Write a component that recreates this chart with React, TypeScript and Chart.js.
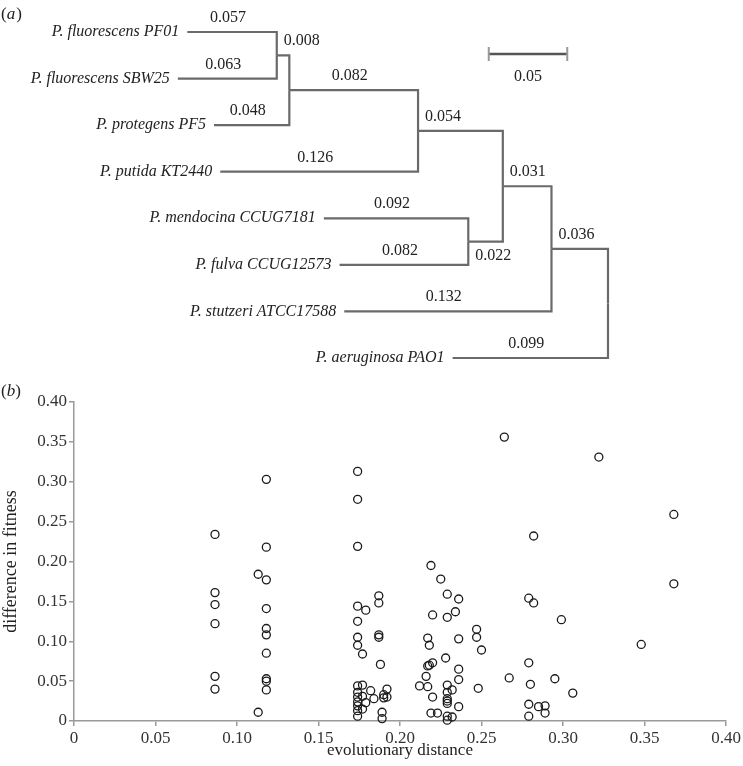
import React, { useEffect, useRef } from 'react';
import { Chart, registerables } from 'chart.js';

Chart.register(...registerables);

const FONT = '"Liberation Serif", "Times New Roman", Times, serif';

// ---------- Panel (a): phylogenetic tree ----------
const leafNames = [
  'P. fluorescens PF01',
  'P. fluorescens SBW25',
  'P. protegens PF5',
  'P. putida KT2440',
  'P. mendocina CCUG7181',
  'P. fulva CCUG12573',
  'P. stutzeri ATCC17588',
  'P. aeruginosa PAO1',
];
const leafBranchLengths = [0.057, 0.063, 0.048, 0.126, 0.092, 0.082, 0.132, 0.099];
// internal nodes in post-order (root last)
const nodeNames = ['F', 'E', 'C', 'D', 'B', 'A', 'R'];
const nodeChildren = [
  ['L0', 'L1'],
  ['F', 'L2'],
  ['E', 'L3'],
  ['L4', 'L5'],
  ['C', 'D'],
  ['B', 'L6'],
  ['A', 'L7'],
];
const nodeBranchLengths = [0.008, 0.082, 0.054, 0.022, 0.031, 0.036, 0];
const scaleBarLength = 0.05;

// ---------- Panel (b): scatter ----------
const distance = [
  0.0865, 0.0865, 0.0865, 0.0865, 0.0865, 0.0865,
  0.118, 0.118, 0.118, 0.118, 0.118, 0.118, 0.118, 0.118, 0.118, 0.118,
  0.113, 0.113,
  0.174, 0.174, 0.174, 0.174, 0.174, 0.174, 0.174, 0.174, 0.174, 0.174, 0.174, 0.174, 0.174, 0.174,
  0.177, 0.177, 0.177, 0.177,
  0.179, 0.179, 0.182, 0.184,
  0.187, 0.187, 0.187, 0.187, 0.188, 0.189, 0.189, 0.190, 0.190, 0.192, 0.192,
  0.212, 0.216, 0.217, 0.217, 0.217, 0.218, 0.218, 0.219, 0.219, 0.220, 0.220, 0.220, 0.223,
  0.225, 0.228,
  0.229, 0.229, 0.229, 0.229, 0.229, 0.229, 0.229, 0.229, 0.229,
  0.232, 0.232, 0.234,
  0.236, 0.236, 0.236, 0.236, 0.236,
  0.247, 0.247, 0.248, 0.250,
  0.264, 0.267, 0.279, 0.279, 0.279, 0.279, 0.280, 0.282, 0.282, 0.285, 0.289, 0.289,
  0.295, 0.299, 0.306, 0.322, 0.348, 0.368, 0.368,
];
const fitnessDiff = [
  0.234, 0.161, 0.146, 0.122, 0.056, 0.040,
  0.303, 0.218, 0.177, 0.141, 0.116, 0.108, 0.085, 0.053, 0.050, 0.039,
  0.184, 0.011,
  0.313, 0.278, 0.219, 0.144, 0.125, 0.105, 0.095, 0.044, 0.036, 0.030, 0.024, 0.019, 0.013, 0.006,
  0.084, 0.045, 0.031, 0.015,
  0.139, 0.023, 0.038, 0.028,
  0.157, 0.148, 0.108, 0.105, 0.071, 0.011, 0.003, 0.029, 0.033, 0.040, 0.030,
  0.044, 0.056, 0.104, 0.069, 0.043, 0.095, 0.070, 0.195, 0.010, 0.133, 0.073, 0.030, 0.010,
  0.178, 0.079,
  0.159, 0.130, 0.045, 0.036, 0.028, 0.025, 0.022, 0.006, 0.001,
  0.039, 0.005, 0.137,
  0.153, 0.103, 0.065, 0.052, 0.018,
  0.115, 0.105, 0.041, 0.089,
  0.356, 0.054, 0.154, 0.073, 0.021, 0.006, 0.046, 0.232, 0.148, 0.018, 0.019, 0.010,
  0.053, 0.127, 0.035, 0.331, 0.096, 0.259, 0.172,
];
const xTickValues = [0, 0.05, 0.1, 0.15, 0.2, 0.25, 0.3, 0.35, 0.4];
const yTickValues = [0, 0.05, 0.1, 0.15, 0.2, 0.25, 0.3, 0.35, 0.4];
const xTitle = 'evolutionary distance';
const yTitle = 'difference in fitness';

const fmtTick = (v: number) => (v === 0 ? '0' : v.toFixed(2));

function buildTree() {
  const depth: Record<string, number> = {};
  const yPos: Record<string, number> = {};
  const length: Record<string, number> = {};
  const parent: Record<string, string> = {};
  leafNames.forEach((_, i) => {
    yPos['L' + i] = i;
    length['L' + i] = leafBranchLengths[i];
  });
  nodeNames.forEach((n, i) => {
    length[n] = nodeBranchLengths[i];
    const [a, b] = nodeChildren[i];
    yPos[n] = (yPos[a] + yPos[b]) / 2;
    parent[a] = n;
    parent[b] = n;
  });
  depth[nodeNames[nodeNames.length - 1]] = 0;
  for (let i = nodeNames.length - 1; i >= 0; i--) {
    const n = nodeNames[i];
    for (const c of nodeChildren[i]) depth[c] = depth[n] + length[c];
  }
  return { depth, yPos, length, parent };
}

const tree = buildTree();
const belowLabelNodes = ['D'];

function TreePanel() {
  const ref = useRef<HTMLCanvasElement>(null);
  useEffect(() => {
    const ids = Object.keys(tree.parent);
    const datasets = ids.map((id) => {
      const p = tree.parent[id];
      return {
        data: [
          { x: tree.depth[p], y: tree.yPos[p] },
          { x: tree.depth[p], y: tree.yPos[id] },
          { x: tree.depth[id], y: tree.yPos[id] },
        ],
        showLine: true,
        borderColor: '#6a6a6a',
        borderWidth: 2.2,
        pointRadius: 0,
        tension: 0,
        borderJoinStyle: 'miter' as const,
        clip: false as any,
      };
    });
    const plugin = {
      id: 'treeText',
      afterDatasetsDraw(chart: any) {
        const ctx = chart.ctx;
        const xs = chart.scales.x;
        const ys = chart.scales.y;
        ctx.save();
        // panel label
        ctx.fillStyle = '#222';
        ctx.textBaseline = 'alphabetic';
        ctx.textAlign = 'left';
        ctx.font = `17px ${FONT}`;
        ctx.fillText('(', 1, 19);
        let w = ctx.measureText('(').width;
        ctx.font = `italic 17px ${FONT}`;
        ctx.fillText('a', 1 + w, 19);
        w += ctx.measureText('a').width;
        ctx.font = `17px ${FONT}`;
        ctx.fillText(')', 2 + w, 19);

        // leaf labels
        ctx.font = `italic 16px ${FONT}`;
        ctx.textAlign = 'right';
        ctx.textBaseline = 'middle';
        leafNames.forEach((name, i) => {
          const id = 'L' + i;
          ctx.fillText(name, xs.getPixelForValue(tree.depth[id]) - 8, ys.getPixelForValue(tree.yPos[id]));
        });
        // branch length labels
        ctx.font = `16px ${FONT}`;
        ctx.textBaseline = 'alphabetic';
        ids.forEach((id) => {
          const len = tree.length[id];
          if (!len) return;
          const p = tree.parent[id];
          const x0 = xs.getPixelForValue(tree.depth[p]);
          const x1 = xs.getPixelForValue(tree.depth[id]);
          const y = ys.getPixelForValue(tree.yPos[id]);
          const internal = !id.startsWith('L');
          let tx;
          if (internal && len < 0.06) {
            ctx.textAlign = 'left';
            tx = Math.min(x0, x1) + 7;
          } else {
            ctx.textAlign = 'center';
            tx = (x0 + x1) / 2 - 4;
          }
          const ty = belowLabelNodes.includes(id) ? y + 18 : y - 10;
          ctx.fillText(len.toFixed(3), tx, ty);
        });
        // scale bar
        const barPx = Math.abs(xs.getPixelForValue(0) - xs.getPixelForValue(scaleBarLength));
        const cx = 528;
        const cy = 54;
        ctx.strokeStyle = '#555';
        ctx.lineWidth = 2.5;
        ctx.beginPath();
        ctx.moveTo(cx - barPx / 2, cy);
        ctx.lineTo(cx + barPx / 2, cy);
        ctx.stroke();
        ctx.strokeStyle = '#999';
        ctx.lineWidth = 2;
        ctx.beginPath();
        ctx.moveTo(cx - barPx / 2, cy - 7);
        ctx.lineTo(cx - barPx / 2, cy + 7);
        ctx.moveTo(cx + barPx / 2, cy - 7);
        ctx.lineTo(cx + barPx / 2, cy + 7);
        ctx.stroke();
        ctx.textAlign = 'center';
        ctx.fillText(scaleBarLength.toFixed(2), cx, 81);
        ctx.restore();
      },
    };
    const chart = new Chart(ref.current!, {
      type: 'scatter',
      data: { datasets: datasets as any },
      options: {
        animation: false,
        responsive: false,
        devicePixelRatio: 1,
        layout: { padding: 0 },
        plugins: { legend: { display: false }, tooltip: { enabled: false } },
        scales: {
          x: { type: 'linear', reverse: true, min: -0.086, max: 0.3873, display: false },
          y: { type: 'linear', reverse: true, min: -0.687, max: 7.365, display: false },
        },
      },
      plugins: [plugin],
    });
    return () => chart.destroy();
  }, []);
  return <canvas ref={ref} width={743} height={375} style={{ display: 'block' }} />;
}

function ScatterPanel() {
  const ref = useRef<HTMLCanvasElement>(null);
  useEffect(() => {
    const points = distance.map((x, i) => ({ x, y: fitnessDiff[i] }));
    const plugin = {
      id: 'scatterText',
      afterDraw(chart: any) {
        const ctx = chart.ctx;
        const a = chart.chartArea;
        ctx.save();
        ctx.fillStyle = '#222';
        ctx.textBaseline = 'alphabetic';
        ctx.textAlign = 'left';
        ctx.font = `17px ${FONT}`;
        ctx.fillText('(', 1, 21);
        let w = ctx.measureText('(').width;
        ctx.font = `italic 17px ${FONT}`;
        ctx.fillText('b', 1 + w, 21);
        w += ctx.measureText('b').width;
        ctx.font = `17px ${FONT}`;
        ctx.fillText(')', 1 + w, 21);

        ctx.font = `17px ${FONT}`;
        ctx.textAlign = 'center';
        ctx.textBaseline = 'middle';
        ctx.fillText(xTitle, (a.left + a.right) / 2, 376);
        ctx.font = `18px ${FONT}`;
        ctx.translate(11, (a.top + a.bottom) / 2);
        ctx.rotate(-Math.PI / 2);
        ctx.fillText(yTitle, 0, 0);
        ctx.restore();
      },
    };
    const axisCommon = {
      type: 'linear' as const,
      min: 0,
      max: 0.4,
      grid: {
        display: true,
        drawOnChartArea: false,
        drawTicks: true,
        tickLength: 5,
        color: '#9a9a9a',
        lineWidth: 1.5,
      },
      border: { display: true, color: '#9a9a9a', width: 1.5 },
      ticks: {
        color: '#333',
        font: { family: FONT, size: 17 },
        padding: 2,
        callback: (v: any) => fmtTick(Number(v)),
      },
    };
    const chart = new Chart(ref.current!, {
      type: 'scatter',
      data: {
        datasets: [
          {
            data: points,
            pointRadius: 4,
            pointBorderWidth: 1.3,
            pointBackgroundColor: 'rgba(0,0,0,0)',
            pointBorderColor: '#1a1a1a',
            clip: false as any,
          },
        ],
      },
      options: {
        animation: false,
        responsive: false,
        devicePixelRatio: 1,
        layout: { padding: { top: 27, right: 17, left: 0, bottom: 0 } },
        plugins: { legend: { display: false }, tooltip: { enabled: false } },
        scales: {
          x: {
            ...axisCommon,
            afterBuildTicks: (s: any) => {
              s.ticks = xTickValues.map((value) => ({ value }));
            },
            afterFit: (s: any) => {
              s.height = 45;
            },
          },
          y: {
            ...axisCommon,
            afterBuildTicks: (s: any) => {
              s.ticks = yTickValues.map((value) => ({ value }));
            },
            afterFit: (s: any) => {
              s.width = 74;
            },
          },
        } as any,
      },
      plugins: [plugin],
    });
    return () => chart.destroy();
  }, []);
  return <canvas ref={ref} width={743} height={391} style={{ display: 'block' }} />;
}

export default function App() {
  return (
    <div style={{ position: 'absolute', left: 0, top: 0, width: 743, height: 766, background: '#fff' }}>
      <TreePanel />
      <ScatterPanel />
    </div>
  );
}
